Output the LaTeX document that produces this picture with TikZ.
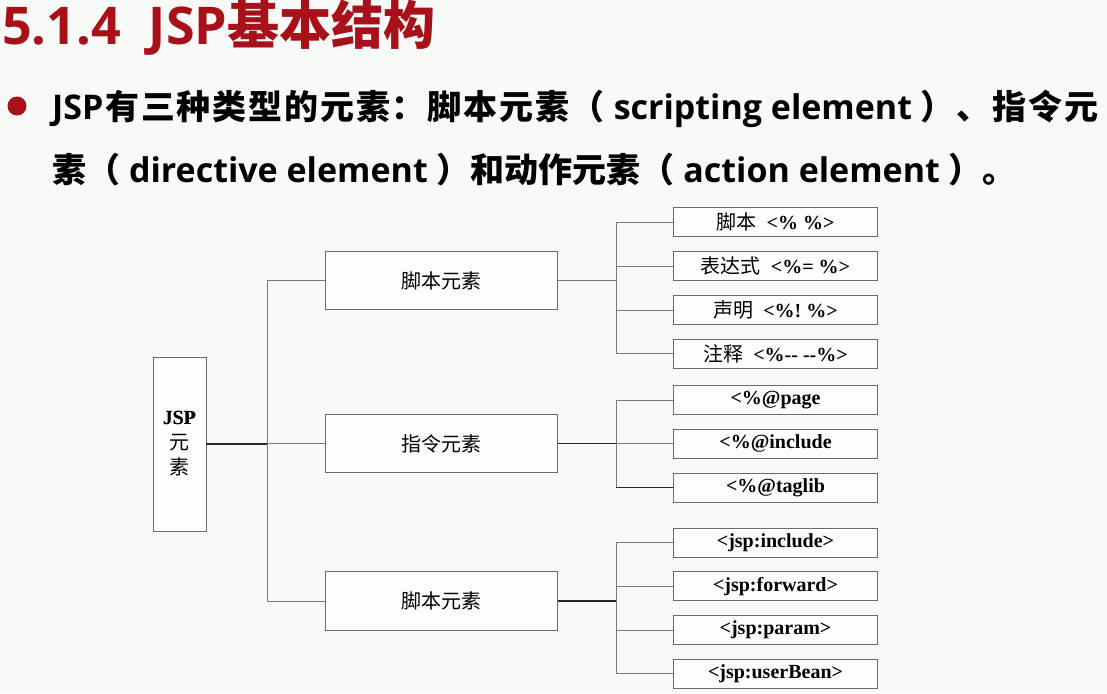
\documentclass[tikz,border=0pt]{standalone}
\usepackage{fontspec}
\setmainfont{Liberation Serif}
\newfontfamily\cjk{Noto Sans CJK SC}
\newfontfamily\lat{Open Sans}
\definecolor{titlered}{HTML}{A8101A}
\definecolor{bg}{HTML}{F8FAF8}
\definecolor{boxgray}{HTML}{6A6A6A}
\definecolor{linegray}{HTML}{7A7A7A}
\newcommand{\zh}[1]{{\cjk #1}}
\newcommand{\la}[1]{{\lat #1}}
\begin{document}
\begin{tikzpicture}[x=1pt,y=-1pt,
  box/.style={draw=boxgray, line width=0.9pt, inner sep=0pt, align=center, fill=white!60!bg},
  jbox/.style={box, minimum width=53pt, minimum height=174pt, font=\fontsize{20}{25}\selectfont},
  mbox/.style={box, minimum width=232pt, minimum height=58.5pt, font=\fontsize{20}{24}\selectfont},
  rbox/.style={box, minimum width=204.5pt, minimum height=29pt, font=\fontsize{20}{22}\selectfont\bfseries},
  conn/.style={draw=linegray, line width=0.8pt},
  darkconn/.style={draw=black!85, line width=1.2pt},
  txt/.style={inner sep=0pt, anchor=base west}]
\fill[bg] (0,0) rectangle (1107,693);
\useasboundingbox (0,0) rectangle (1107,693);

% title
\node[txt, text=titlered, font=\fontsize{52}{60}\selectfont\bfseries] (title) at (2,45)
  {\la{5.1.4\hspace{28pt}JSP}\zh{基本结构}};

% bullet
\fill[titlered] (17,106) circle[radius=9.5pt];
\node[txt, font=\fontsize{34}{40}\selectfont\bfseries] (l1) at (52,119)
  {\hbox to 1046pt{\la{JSP}\hfil\zh{有}\hfil\zh{三}\hfil\zh{种}\hfil\zh{类}\hfil\zh{型}\hfil\zh{的}\hfil\zh{元}\hfil\zh{素}\hfil\zh{：}\hfil\zh{脚}\hfil\zh{本}\hfil\zh{元}\hfil\zh{素}\hfil\zh{（}\la{ scripting element }\zh{）}\hfil\zh{、}\hfil\zh{指}\hfil\zh{令}\hfil\zh{元}}};
\node[txt, font=\fontsize{34}{40}\selectfont\bfseries] (l2) at (52,182)
  {\zh{素（}\la{ directive element }\zh{）和动作元素（}\la{ action element }\zh{）。}};

% boxes
\node[jbox] (jsp) at (179.5,444) {JSP\\\zh{元}\\\zh{素}};
\node[jbox, draw=none, fill=none, font=\fontsize{20}{25}\selectfont] at (179.5,444) {\textbf{JSP}\\\phantom{\zh{元}}\\\phantom{\zh{素}}};

\node[mbox] (m1) at (441.5,280.5) {\zh{脚本元素}};
\node[mbox] (m2) at (441.5,443.5) {\zh{指令元素}};
\node[mbox] (m3) at (441.5,601) {\zh{脚本元素}};

\node[rbox] (r1) at (775.5,222.3) {\zh{\mdseries 脚本}~~<\%~\%>};
\node[rbox] (r2) at (775.5,266.2) {\zh{\mdseries 表达式}~~<\%=~\%>};
\node[rbox] (r3) at (775.5,310.2) {\zh{\mdseries 声明}~~<\%!~\%>};
\node[rbox] (r4) at (775.5,353.7) {\zh{\mdseries 注释}~~<\%-{}-~-{}-\%>};

\node[rbox] (r5) at (775.5,400) {<\%@page};
\node[rbox] (r6) at (775.5,443.8) {<\%@include};
\node[rbox] (r7) at (775.5,487.8) {<\%@taglib};

\node[rbox] (r8) at (775.5,542.8) {<jsp:include>};
\node[rbox] (r9) at (775.5,586.3) {<jsp:forward>};
\node[rbox] (r10) at (775.5,630) {<jsp:param>};
\node[rbox] (r11) at (775.5,673.8) {<jsp:userBean>};

% connectors
\coordinate (tr) at (267,0);
\coordinate (bus) at (616,0);
\draw[darkconn] (jsp.east) -- (jsp.east -| tr);
\draw[conn] (m1.west) -| (tr |- m3.west) -- (m3.west);
\draw[conn] (tr |- m2.west) -- (m2.west);

\draw[conn] (m1.east) -- (m1.east -| bus);
\draw[conn] (r1.west) -| (bus |- r4.west) -- (r4.west);
\draw[conn] (bus |- r2.west) -- (r2.west);
\draw[conn] (bus |- r3.west) -- (r3.west);

\draw[darkconn] (m2.east) -- (m2.east -| bus);
\draw[conn] (r5.west) -| (bus |- r7.west);
\draw[darkconn] (bus |- r7.west) -- (r7.west);
\draw[conn] (bus |- r6.west) -- (r6.west);

\draw[darkconn] (m3.east) -- (m3.east -| bus);
\draw[conn] (r8.west) -| (bus |- r11.west) -- (r11.west);
\draw[conn] (bus |- r9.west) -- (r9.west);
\draw[conn] (bus |- r10.west) -- (r10.west);
\end{tikzpicture}
\end{document}
